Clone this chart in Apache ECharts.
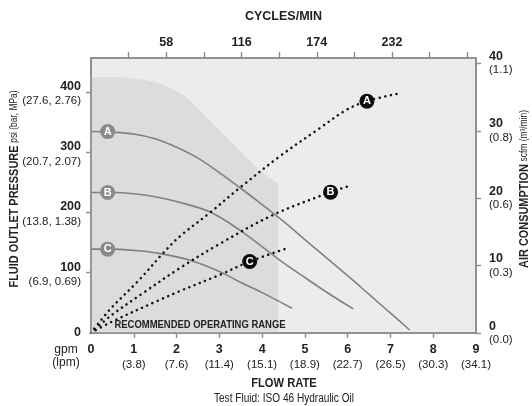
<!DOCTYPE html>
<html>
<head>
<meta charset="utf-8">
<script src="https://cdn.jsdelivr.net/npm/echarts@6/dist/echarts.min.js"></script>
<style>
html,body{margin:0;padding:0;background:#fff;}
#c{width:532px;height:406px;}
</style>
</head>
<body>
<div id="c"></div>
<script>
// ---------- data ----------
const flowTicks = [0, 1, 2, 3, 4, 5, 6, 7, 8, 9];
const lpmLabels = ['', '3.8', '7.6', '11.4', '15.1', '18.9', '22.7', '26.5', '30.3', '34.1'];
const cycleTicks = [29, 58, 87, 116, 145, 174, 203, 232, 261, 290];
const cycleLabels = [58, 116, 174, 232];
const cycleMax = 296.7;
const pressureTicks = [0, 100, 200, 300, 400];
const pressureMetric = ['', '6.9, 0.69', '13.8, 1.38', '20.7, 2.07', '27.6, 2.76'];
const pressureMax = 456;
const airTicks = [0, 10, 20, 30, 40];
const airMetric = ['0.0', '0.3', '0.6', '0.8', '1.1'];
const airMax = 40.8;

// recommended operating range outline (gpm, psi)
const rangeFlow = [0, 0.5, 1.0, 1.5, 1.9, 2.2, 2.6, 3.0, 3.5, 4.0, 4.37];
const rangePsi  = [424, 424, 422, 416, 405, 392, 365, 336, 300, 266, 248];

// fluid outlet pressure curves (gpm, psi)
const presA_flow = [0, 0.5, 1.0, 1.5, 2.0, 2.5, 3.0, 3.5, 4.0, 4.5, 5.0, 5.5, 6.0, 6.5, 7.0, 7.45];
const presA_psi  = [334, 333, 330, 322, 308, 290, 266, 240, 213, 185, 155, 125, 95, 64, 33, 5];
const presB_flow = [0, 0.5, 1.0, 1.5, 2.0, 2.77, 3.47, 4.41, 5.0, 5.5, 6.13];
const presB_psi  = [233, 233, 231, 226, 218, 201, 171, 121, 92, 68, 40];
const presC_flow = [0, 0.5, 1.0, 1.5, 2.3, 3.0, 3.47, 4.0, 4.7];
const presC_psi  = [139, 139, 137, 133, 121, 102, 85, 67, 41];

// air consumption curves (gpm, scfm)
const airA_flow = [0, 0.43, 1.13, 1.68, 2.07, 2.77, 3.47, 4.41, 5.35, 5.97, 6.45, 7.24];
const airA_scfm = [0, 3.4, 7.9, 11.8, 14.3, 17.8, 21.5, 26.2, 30.4, 33.1, 34.4, 35.6];
const airB_flow = [0, 0.43, 1.21, 2.07, 3.0, 4.25, 5.6, 6.03];
const airB_scfm = [0, 2.4, 5.9, 9.6, 13.2, 17.5, 20.9, 21.8];
const airC_flow = [0, 0.43, 1.6, 2.07, 3.0, 3.71, 4.64];
const airC_scfm = [0, 1.5, 4.9, 6.2, 8.6, 10.6, 12.7];

// curve label marker positions
const presLabels = [['A', 0.39, 334], ['B', 0.39, 233], ['C', 0.39, 139]];
const airLabels  = [['A', 6.45, 34.4], ['B', 5.6, 20.9], ['C', 3.71, 10.6]];

// ---------- chart ----------
const FONT = "'Liberation Sans Narrow', 'Liberation Sans', Roboto, sans-serif";
const zip = (xs, ys) => xs.map((x, i) => [x, ys[i]]);
const GRID_LINE = '#8c8c8c';
// axis indices: x0 = flow (bottom), x1 = cycles (top); y0 = pressure (left), y1 = air (right)
const X_FLOW = 0, Y_PRES = 0, Y_AIR = 1;

const chart = echarts.init(document.getElementById('c'), null, {renderer: 'canvas'});

function presCurve(name, xs, ys) {
  return {
    name, type: 'line', xAxisIndex: X_FLOW, yAxisIndex: Y_PRES, data: zip(xs, ys),
    smooth: 0.35, symbol: 'none', silent: true, z: 3,
    lineStyle: {color: '#808080', width: 1.6}
  };
}
function airCurve(name, xs, ys) {
  return {
    name, type: 'line', xAxisIndex: X_FLOW, yAxisIndex: Y_AIR, data: zip(xs, ys),
    smooth: 0.35, symbol: 'none', silent: true, z: 4,
    lineStyle: {color: '#111', width: 2.5, type: [0.1, 5.6], cap: 'round'}
  };
}

const tickStyle = {color: GRID_LINE, width: 1.4};
const lineStyle = {color: GRID_LINE, width: 1.6};

const option = {
  animation: false,
  textStyle: {fontFamily: FONT},
  grid: {
    left: 91, right: 56, top: 58, bottom: 73,
    show: true, backgroundColor: '#ececec', borderColor: GRID_LINE, borderWidth: 1.6
  },
  xAxis: [
    {
      type: 'value', position: 'bottom', min: 0, max: 9, z: 5,
      axisLine: {show: true, onZero: false, lineStyle},
      axisTick: {show: true, length: 5, customValues: flowTicks.slice(1, 9), lineStyle: tickStyle},
      splitLine: {show: false},
      axisLabel: {
        margin: 10, color: '#222', fontFamily: FONT,
        customValues: flowTicks,
        formatter: v => {
          const i = flowTicks.indexOf(v);
          if (i <= 0) return '{b|0}';
          return '{b|' + v + '}\n{n|(' + lpmLabels[i] + ')}';
        },
        rich: {
          b: {fontFamily: FONT, fontWeight: 'bold', fontSize: 12.5, lineHeight: 14, color: '#222'},
          n: {fontFamily: FONT, fontSize: 11.5, lineHeight: 16, color: '#222'}
        }
      }
    },
    {
      type: 'value', position: 'top', min: 0, max: cycleMax, z: 5,
      axisLine: {show: true, onZero: false, lineStyle},
      axisTick: {show: true, length: 6, customValues: cycleTicks, lineStyle: tickStyle},
      splitLine: {show: false},
      axisLabel: {
        margin: 9, color: '#222', fontFamily: FONT, fontWeight: 'bold', fontSize: 12.5,
        customValues: cycleLabels
      },
      name: 'CYCLES/MIN', nameLocation: 'middle', nameGap: 35,
      nameTextStyle: {fontFamily: FONT, fontWeight: 'bold', fontSize: 12.5, color: '#222'}
    }
  ],
  yAxis: [
    {
      type: 'value', position: 'left', min: 0, max: pressureMax, z: 5,
      axisLine: {show: true, onZero: false, lineStyle},
      axisTick: {show: true, length: 5, customValues: pressureTicks.slice(1), lineStyle: tickStyle},
      splitLine: {show: false},
      axisLabel: {
        margin: 10, color: '#222', fontFamily: FONT,
        customValues: pressureTicks,
        formatter: v => {
          const i = pressureTicks.indexOf(v);
          if (i <= 0) return '{z|0}';
          return '{b|' + v + '}\n{n|(' + pressureMetric[i] + ')}';
        },
        rich: {
          z: {fontFamily: FONT, fontWeight: 'bold', fontSize: 12.5, lineHeight: 14, color: '#222', align: 'right'},
          b: {fontFamily: FONT, fontWeight: 'bold', fontSize: 12.5, lineHeight: 19, color: '#222', align: 'right'},
          n: {fontFamily: FONT, fontSize: 11.5, lineHeight: 11, color: '#222', align: 'right'}
        }
      }
    },
    {
      type: 'value', position: 'right', min: 0, max: airMax, z: 5,
      axisLine: {show: true, onZero: false, lineStyle},
      axisTick: {show: true, length: 5, customValues: airTicks, lineStyle: tickStyle},
      splitLine: {show: false},
      axisLabel: {
        margin: 13, color: '#222', fontFamily: FONT,
        customValues: airTicks,
        formatter: v => {
          const i = airTicks.indexOf(v);
          return '{b|' + v + '}\n{n|(' + airMetric[i] + ')}';
        },
        rich: {
          b: {fontFamily: FONT, fontWeight: 'bold', fontSize: 12.5, lineHeight: 13.5, color: '#222', align: 'left'},
          n: {fontFamily: FONT, fontSize: 11.5, lineHeight: 13.5, color: '#222', align: 'left'}
        }
      }
    }
  ],
  series: [
    {
      name: 'range', type: 'line', xAxisIndex: X_FLOW, yAxisIndex: Y_PRES,
      data: zip(rangeFlow, rangePsi), smooth: 0.3, symbol: 'none', silent: true, z: 1,
      lineStyle: {width: 0, opacity: 0},
      areaStyle: {color: '#dcdcdd', opacity: 1}
    },
    presCurve('A', presA_flow, presA_psi),
    presCurve('B', presB_flow, presB_psi),
    presCurve('C', presC_flow, presC_psi),
    airCurve('airA', airA_flow, airA_scfm),
    airCurve('airB', airB_flow, airB_scfm),
    airCurve('airC', airC_flow, airC_scfm),
    {
      type: 'scatter', xAxisIndex: X_FLOW, yAxisIndex: Y_PRES, z: 6, silent: true,
      symbol: 'circle', symbolSize: 15,
      itemStyle: {color: '#8a8a8a', opacity: 1},
      data: presLabels.map(d => ({value: [d[1], d[2]], name: d[0]})),
      label: {show: true, position: 'inside', formatter: p => p.name, color: '#fff',
              fontFamily: FONT, fontWeight: 'bold', fontSize: 11}
    },
    {
      type: 'scatter', xAxisIndex: X_FLOW, yAxisIndex: Y_AIR, z: 6, silent: true,
      symbol: 'circle', symbolSize: 15,
      itemStyle: {color: '#0d0d0d', opacity: 1},
      data: airLabels.map(d => ({value: [d[1], d[2]], name: d[0]})),
      label: {show: true, position: 'inside', formatter: p => p.name, color: '#fff',
              fontFamily: FONT, fontWeight: 'bold', fontSize: 11}
    }
  ],
  graphic: [
    {
      type: 'text', x: 14, y: 189, rotation: Math.PI / 2, scaleX: 0.84, z: 100,
      style: {
        text: '{b|FLUID OUTLET PRESSURE} {s|psi (bar, MPa)}',
        align: 'center', verticalAlign: 'middle',
        rich: {
          b: {fontFamily: FONT, fontWeight: 'bold', fontSize: 13, fill: '#222'},
          s: {fontFamily: FONT, fontSize: 10, fill: '#222'}
        }
      }
    },
    {
      type: 'text', x: 524, y: 189, rotation: Math.PI / 2, scaleX: 0.84, z: 100,
      style: {
        text: '{b|AIR CONSUMPTION} {s|scfm (m³/min)}',
        align: 'center', verticalAlign: 'middle',
        rich: {
          b: {fontFamily: FONT, fontWeight: 'bold', fontSize: 13, fill: '#222'},
          s: {fontFamily: FONT, fontSize: 10, fill: '#222'}
        }
      }
    },
    {
      type: 'text', x: 200, y: 325, scaleX: 0.86, z: 100,
      style: {text: 'RECOMMENDED OPERATING RANGE', align: 'center', verticalAlign: 'middle',
              font: 'bold 11px ' + FONT, fill: '#222'}
    },
    {
      type: 'text', x: 66, y: 356, z: 100,
      style: {text: 'gpm\n(lpm)', align: 'center', verticalAlign: 'middle', lineHeight: 13,
              font: '12px ' + FONT, fill: '#222'}
    },
    {
      type: 'text', x: 284, y: 383, scaleX: 0.86, z: 100,
      style: {text: 'FLOW RATE', align: 'center', verticalAlign: 'middle',
              font: 'bold 13px ' + FONT, fill: '#222'}
    },
    {
      type: 'text', x: 284, y: 399, scaleX: 0.84, z: 100,
      style: {text: 'Test Fluid: ISO 46 Hydraulic Oil', align: 'center', verticalAlign: 'middle',
              font: '12px ' + FONT, fill: '#222'}
    }
  ]
};
chart.setOption(option);
</script>
</body>
</html>
